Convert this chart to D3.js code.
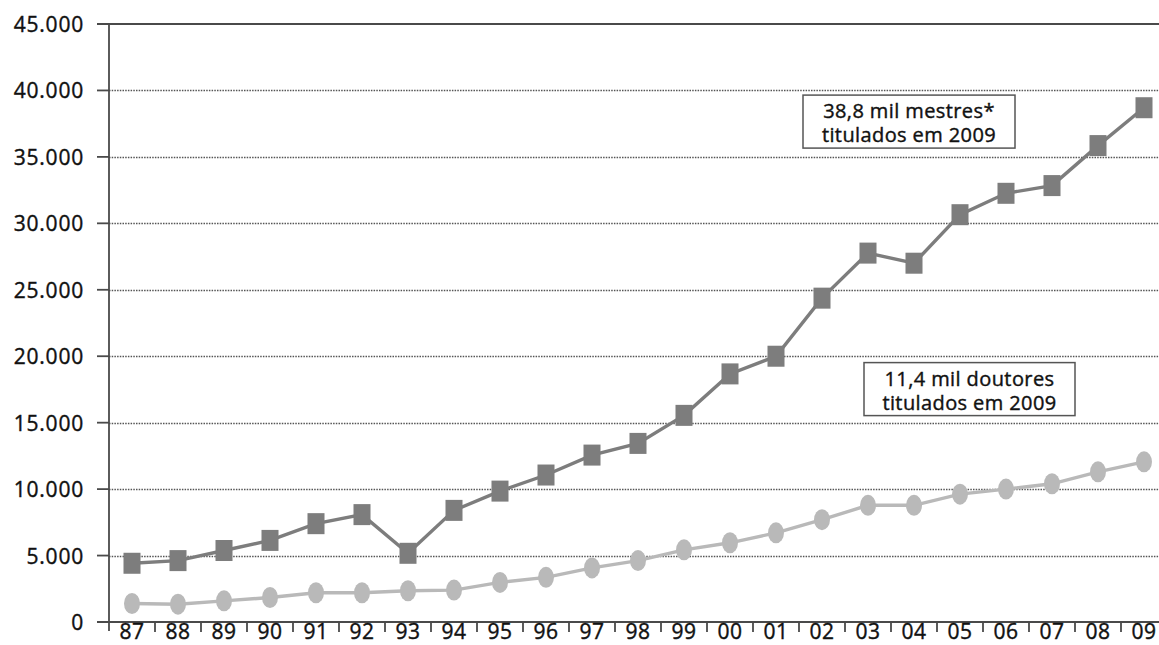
<!DOCTYPE html>
<html>
<head>
<meta charset="utf-8">
<script src="https://cdn.jsdelivr.net/npm/d3@7/dist/d3.min.js"></script>
<style>
  html, body { margin: 0; padding: 0; background: #fff; }
  svg { display: block; font-family: "Open Sans", "Noto Sans", sans-serif; }
  text { stroke: #111; stroke-width: 0.4px; paint-order: fill; }
</style>
</head>
<body>
<svg id="chart" width="1159" height="645"></svg>
<script>
// ---- data ----
const years = ["87","88","89","90","91","92","93","94","95","96","97","98","99","00","01","02","03","04","05","06","07","08","09"];
const mestres = [4420, 4620, 5380, 6140, 7400, 8080, 5170, 8400, 9850, 11060, 12560, 13440, 15550, 18670, 20000, 24370, 27760, 27000, 30650, 32260, 32840, 35850, 38700];
const doutores = [1390, 1340, 1590, 1840, 2200, 2200, 2350, 2400, 2980, 3360, 4070, 4620, 5430, 5960, 6710, 7700, 8780, 8780, 9620, 10000, 10400, 11300, 12050];
const yTicks = [0, 5000, 10000, 15000, 20000, 25000, 30000, 35000, 40000, 45000];
const notes = [
  { lines: ["38,8 mil mestres*", "titulados em 2009"], year: "03", value: 39650 },
  { lines: ["11,4 mil doutores", "titulados em 2009"], year: "04", value: 19520 }
];

// ---- layout ----
const svg = d3.select("#chart");
const x0 = 109, bandW = 46, yBottom = 622, yTop = 24;
const x = d3.scaleBand().domain(years).range([x0, x0 + bandW * years.length]).padding(0);
const y = d3.scaleLinear().domain([0, 45000]).range([yBottom, yTop]);
const loc = d3.formatLocale({ thousands: ".", grouping: [3], decimal: ",", currency: ["", ""] });
const fmt = loc.format(",");
const axisColor = "#4a4a4a";
const textColor = "#111";

// gridlines
svg.append("g").selectAll("line")
  .data(yTicks.filter(d => d > 0 && d < 45000))
  .join("line")
  .attr("x1", x0).attr("x2", 1159)
  .attr("y1", d => Math.round(y(d)) + 0.5).attr("y2", d => Math.round(y(d)) + 0.5)
  .attr("stroke", "#555").attr("stroke-width", 1.4)
  .attr("stroke-dasharray", "1.5,1.2");

// top solid line
svg.append("line")
  .attr("x1", 97).attr("x2", 1159)
  .attr("y1", y(45000)).attr("y2", y(45000))
  .attr("stroke", axisColor).attr("stroke-width", 1.8);

// y tick marks
svg.append("g").selectAll("line")
  .data(yTicks)
  .join("line")
  .attr("x1", 97).attr("x2", x0)
  .attr("y1", d => y(d)).attr("y2", d => y(d))
  .attr("stroke", axisColor).attr("stroke-width", 1.8);

// y labels
svg.append("g").selectAll("text")
  .data(yTicks)
  .join("text")
  .attr("x", 84).attr("y", d => y(d) + 8)
  .attr("text-anchor", "end")
  .attr("font-size", 21)
  .attr("letter-spacing", 0.8)
  .attr("fill", textColor)
  .text(d => fmt(d));

// y axis line
svg.append("line")
  .attr("x1", x0).attr("x2", x0)
  .attr("y1", y(45000)).attr("y2", yBottom + 9)
  .attr("stroke", axisColor).attr("stroke-width", 1.8);

// x axis line
svg.append("line")
  .attr("x1", 97).attr("x2", 1159)
  .attr("y1", yBottom).attr("y2", yBottom)
  .attr("stroke", axisColor).attr("stroke-width", 1.8);

// x tick marks at band boundaries
svg.append("g").selectAll("line")
  .data(years.slice(1))
  .join("line")
  .attr("x1", d => x(d)).attr("x2", d => x(d))
  .attr("y1", yBottom).attr("y2", yBottom + 10)
  .attr("stroke", axisColor).attr("stroke-width", 1.8);

// x labels
svg.append("g").selectAll("text")
  .data(years)
  .join("text")
  .attr("x", d => x(d) + x.bandwidth() / 2)
  .attr("y", 639)
  .attr("text-anchor", "middle")
  .attr("font-size", 21)
  .attr("letter-spacing", 0.5)
  .attr("fill", textColor)
  .text(d => d);

const cx = d => x(d) + x.bandwidth() / 2;
const line = d3.line().x((d, i) => cx(years[i])).y(d => y(d));

// doutores line + ellipses
const cDout = "#b9b9b9";
svg.append("path").datum(doutores)
  .attr("d", line).attr("fill", "none")
  .attr("stroke", cDout).attr("stroke-width", 3.4);
svg.append("g").selectAll("ellipse")
  .data(doutores)
  .join("ellipse")
  .attr("cx", (d, i) => cx(years[i])).attr("cy", d => y(d))
  .attr("rx", 8).attr("ry", 10.5)
  .attr("fill", cDout);

// mestres line + squares
const cMes = "#7d7d7d";
svg.append("path").datum(mestres)
  .attr("d", line).attr("fill", "none")
  .attr("stroke", cMes).attr("stroke-width", 3.4);
svg.append("g").selectAll("rect")
  .data(mestres)
  .join("rect")
  .attr("x", (d, i) => cx(years[i]) - 8.5).attr("y", d => y(d) - 10.5)
  .attr("width", 17).attr("height", 21)
  .attr("fill", cMes);

// annotation boxes
notes.forEach(n => {
  const g = svg.append("g");
  const left = x(n.year) + (n.year === "03" ? -42 : -27);
  const w = n.year === "03" ? 212 : 211;
  const top = y(n.value);
  g.append("rect")
    .attr("x", left).attr("y", top)
    .attr("width", w).attr("height", 53)
    .attr("fill", "#fff").attr("stroke", "#555").attr("stroke-width", 1.5);
  n.lines.forEach((t, i) => {
    g.append("text")
      .attr("x", left + w / 2).attr("y", top + 23 + i * 24)
      .attr("text-anchor", "middle")
      .attr("font-size", 20)
      .attr("letter-spacing", 0.4)
      .attr("fill", textColor)
      .text(t);
  });
});
</script>
</body>
</html>
